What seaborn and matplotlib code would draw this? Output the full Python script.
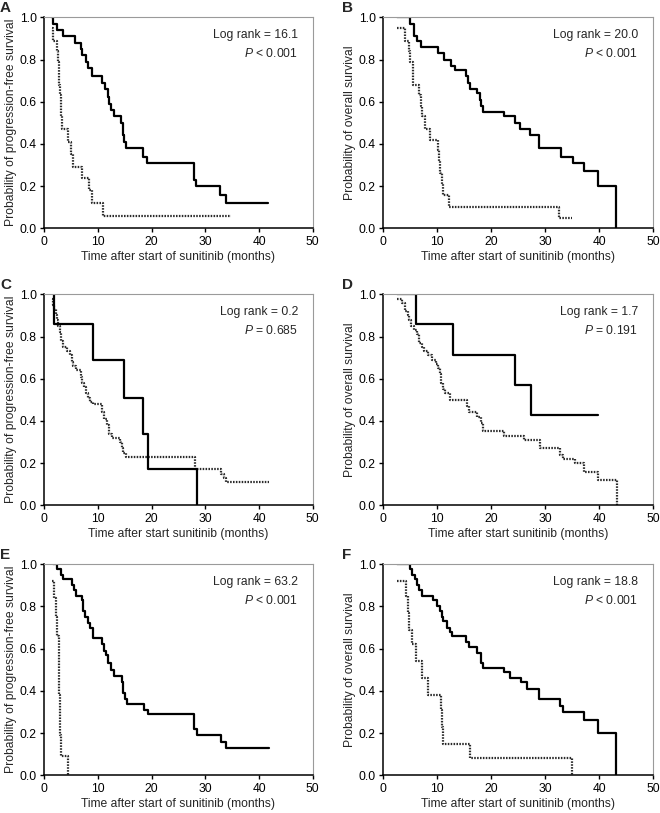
import matplotlib
matplotlib.use("Agg")
from matplotlib import pyplot as plt
import seaborn as sns

# ---- data (Kaplan-Meier step curves) ----
# panel A: progression-free survival
a_solid_t = [1.3, 1.6, 2.3, 3.5, 5.7, 6.8, 7.1, 7.8, 8.2, 8.8, 10.7, 11.3, 11.8, 12.1, 12.4, 12.9,
             14.2, 14.6, 14.8, 15.3, 18.4, 19.2, 27.8, 28.2, 32.7, 33.8, 41.7]
a_solid_s = [1.0, 0.97, 0.94, 0.91, 0.88, 0.85, 0.82, 0.79, 0.76, 0.72, 0.69, 0.66, 0.62, 0.59, 0.56, 0.53,
             0.50, 0.44, 0.41, 0.38, 0.34, 0.31, 0.23, 0.20, 0.16, 0.12, 0.12]
a_dot_t = [1.4, 1.7, 2.3, 2.6, 2.8, 2.9, 3.1, 3.3, 4.5, 5.0, 5.3, 7.0, 8.4, 8.9, 11.0, 34.7]
a_dot_s = [0.95, 0.89, 0.84, 0.79, 0.68, 0.63, 0.53, 0.47, 0.41, 0.35, 0.29, 0.24, 0.18, 0.12, 0.06, 0.06]

# panel B: overall survival
b_solid_t = [2.6, 4.9, 5.7, 6.3, 6.9, 10.2, 11.2, 12.6, 13.3, 15.4, 15.7, 16.0, 17.3, 17.9, 18.2, 18.5,
             22.3, 24.4, 25.3, 27.2, 28.9, 33.0, 35.2, 37.2, 39.8, 43.1]
b_solid_s = [1.0, 0.97, 0.91, 0.89, 0.86, 0.83, 0.80, 0.77, 0.75, 0.72, 0.69, 0.66, 0.64, 0.61, 0.58, 0.55,
             0.53, 0.50, 0.47, 0.44, 0.38, 0.34, 0.31, 0.27, 0.20, 0.0]
b_dot_t = [2.6, 4.0, 4.7, 4.9, 5.5, 6.7, 6.9, 7.2, 7.8, 8.6, 10.2, 10.4, 10.6, 10.8, 11.1, 12.2, 32.6, 34.9]
b_dot_s = [0.95, 0.89, 0.84, 0.79, 0.68, 0.63, 0.58, 0.53, 0.47, 0.42, 0.37, 0.32, 0.26, 0.21, 0.16, 0.10,
           0.05, 0.05]

# panel C: progression-free survival
c_solid_t = [1.6, 1.9, 9.0, 14.8, 18.4, 19.4, 28.4]
c_solid_s = [1.0, 0.86, 0.69, 0.51, 0.34, 0.17, 0.0]
c_dot_t = [1.5, 1.7, 1.9, 2.1, 2.3, 2.6, 2.9, 3.2, 3.5, 4.2, 4.8, 5.1, 5.4, 5.9, 6.8, 7.1, 7.4, 7.8, 8.2,
           8.6, 9.1, 10.7, 11.1, 11.6, 12.1, 12.7, 14.1, 14.4, 14.7, 15.2, 28.0, 32.9, 33.4, 33.9, 41.9]
c_dot_s = [0.98, 0.95, 0.93, 0.90, 0.88, 0.85, 0.82, 0.78, 0.75, 0.73, 0.71, 0.68, 0.66, 0.64, 0.61, 0.58,
           0.56, 0.53, 0.51, 0.49, 0.48, 0.44, 0.41, 0.38, 0.34, 0.32, 0.30, 0.27, 0.25, 0.23, 0.17, 0.15,
           0.13, 0.11, 0.11]

# panel D: overall survival
d_solid_t = [2.6, 6.1, 12.9, 24.4, 27.4, 39.8]
d_solid_s = [1.0, 0.86, 0.71, 0.57, 0.43, 0.43]
d_dot_t = [2.5, 3.4, 4.0, 4.5, 4.8, 5.1, 5.6, 6.3, 6.7, 7.1, 7.6, 8.2, 9.0, 9.8, 10.2, 10.5, 10.7, 11.0,
           11.4, 12.4, 15.5, 15.8, 17.3, 18.1, 18.4, 22.4, 26.1, 29.0, 32.8, 33.4, 35.5, 37.3, 39.9, 43.3]
d_dot_s = [0.98, 0.96, 0.92, 0.90, 0.88, 0.85, 0.83, 0.81, 0.77, 0.75, 0.73, 0.71, 0.69, 0.67, 0.65, 0.62,
           0.58, 0.55, 0.53, 0.50, 0.47, 0.44, 0.42, 0.39, 0.35, 0.33, 0.31, 0.27, 0.24, 0.22, 0.20, 0.16,
           0.12, 0.0]

# panel E: progression-free survival
e_solid_t = [1.7, 2.4, 3.1, 3.5, 5.1, 5.5, 5.9, 7.0, 7.3, 7.6, 8.2, 8.6, 9.0, 10.7, 11.1, 11.5, 11.9,
             12.4, 12.9, 14.4, 14.7, 15.0, 15.5, 18.6, 19.4, 27.8, 28.4, 32.9, 33.8, 41.9]
e_solid_s = [1.0, 0.98, 0.95, 0.93, 0.90, 0.88, 0.85, 0.83, 0.78, 0.75, 0.72, 0.70, 0.65, 0.62, 0.59, 0.57,
             0.53, 0.50, 0.47, 0.44, 0.39, 0.36, 0.34, 0.31, 0.29, 0.22, 0.19, 0.16, 0.13, 0.13]
e_dot_t = [1.5, 1.8, 2.2, 2.4, 2.8, 2.9, 3.0, 3.1, 4.5]
e_dot_s = [0.92, 0.84, 0.75, 0.66, 0.38, 0.28, 0.19, 0.09, 0.0]

# panel F: overall survival
f_solid_t = [2.6, 4.9, 5.4, 5.9, 6.3, 6.7, 7.1, 9.3, 10.0, 10.5, 10.8, 11.1, 11.9, 12.3, 12.7, 15.3, 15.8,
             17.3, 18.1, 18.2, 18.4, 22.4, 23.5, 25.5, 26.7, 28.8, 32.8, 33.3, 37.3, 39.9, 43.2]
f_solid_s = [1.0, 0.98, 0.95, 0.93, 0.90, 0.88, 0.85, 0.83, 0.80, 0.78, 0.75, 0.73, 0.70, 0.68, 0.66, 0.63,
             0.61, 0.58, 0.56, 0.53, 0.51, 0.49, 0.46, 0.44, 0.41, 0.36, 0.33, 0.30, 0.26, 0.20, 0.0]
f_dot_t = [2.5, 4.2, 4.6, 4.8, 5.4, 6.0, 7.1, 8.2, 10.7, 10.9, 11.1, 16.0, 35.0]
f_dot_s = [0.92, 0.85, 0.77, 0.69, 0.62, 0.54, 0.46, 0.38, 0.31, 0.23, 0.15, 0.08, 0.0]

panel_letters = ["A", "B", "C", "D", "E", "F"]
log_rank = ["16.1", "20.0", "0.2", "1.7", "63.2", "18.8"]
p_values = ["< 0.001", "< 0.001", "= 0.685", "= 0.191", "< 0.001", "< 0.001"]
pfs_label = "Probability of progression-free survival"
os_label = "Probability of overall survival"
y_labels = [pfs_label, os_label, pfs_label, os_label, pfs_label, os_label]
x_label_1 = "Time after start of sunitinib (months)"
x_label_2 = "Time after start sunitinib (months)"
x_labels = [x_label_1, x_label_1, x_label_2, x_label_2, x_label_1, x_label_1]

curves = [
    (a_solid_t, a_solid_s, a_dot_t, a_dot_s),
    (b_solid_t, b_solid_s, b_dot_t, b_dot_s),
    (c_solid_t, c_solid_s, c_dot_t, c_dot_s),
    (d_solid_t, d_solid_s, d_dot_t, d_dot_s),
    (e_solid_t, e_solid_s, e_dot_t, e_dot_s),
    (f_solid_t, f_solid_s, f_dot_t, f_dot_s),
]

sns.set_style("white")
plt.rcParams['font.family'] = ['Liberation Sans', 'DejaVu Sans']
plt.rcParams['mathtext.fontset'] = 'custom'
plt.rcParams['mathtext.rm'] = 'Liberation Sans'
plt.rcParams['mathtext.it'] = 'Liberation Sans:italic'

fig = plt.figure(figsize=(6.6, 8.13), dpi=100)

lefts = [0.0671, 0.5808]
widths = [0.4067, 0.4085]
bottoms = [0.7192, 0.3785, 0.0464]
height = 0.2595

fs = 8.7
for i in range(6):
    row, col = divmod(i, 2)
    ax = fig.add_axes([lefts[col], bottoms[row], widths[col], height])
    st, ss, dt, ds = curves[i]
    sns.lineplot(x=dt, y=ds, ax=ax, estimator=None, drawstyle='steps-post',
                 color='#2a2a2a', linewidth=1.6, linestyle=(0, (0.7, 0.6)))
    sns.lineplot(x=st, y=ss, ax=ax, estimator=None, drawstyle='steps-post',
                 color='black', linewidth=1.6)
    ax.set_xlim(0, 50)
    ax.set_ylim(0, 1.0)
    ax.set_xticks([0, 10, 20, 30, 40, 50])
    ax.set_yticks([0.0, 0.2, 0.4, 0.6, 0.8, 1.0])
    ax.set_yticklabels(["0.0", "0.2", "0.4", "0.6", "0.8", "1.0"])
    ax.tick_params(axis='both', direction='out', length=3, width=1, colors='black',
                   labelsize=fs, pad=2.5, bottom=True, left=True)
    for side in ['left', 'bottom']:
        ax.spines[side].set_color('black')
        ax.spines[side].set_linewidth(1.1)
    for side in ['top', 'right']:
        ax.spines[side].set_color('#9a9a9a')
        ax.spines[side].set_linewidth(0.8)
    ax.set_xlabel(x_labels[i], fontsize=fs, labelpad=2.5)
    ax.set_ylabel(y_labels[i], fontsize=fs, labelpad=2)
    ax.text(0.945, 0.915, "Log rank = " + log_rank[i], transform=ax.transAxes,
            ha='right', va='center', fontsize=fs)
    ax.text(0.945, 0.828, "$P$ " + p_values[i], transform=ax.transAxes,
            ha='right', va='center', fontsize=fs)
    fig.text(lefts[col] - 0.067 + (0.0 if col == 0 else 0.005), bottoms[row] + height + 0.012,
             panel_letters[i], fontsize=11, fontweight='bold', ha='left', va='center')

fig.savefig("out.png", dpi=100)
